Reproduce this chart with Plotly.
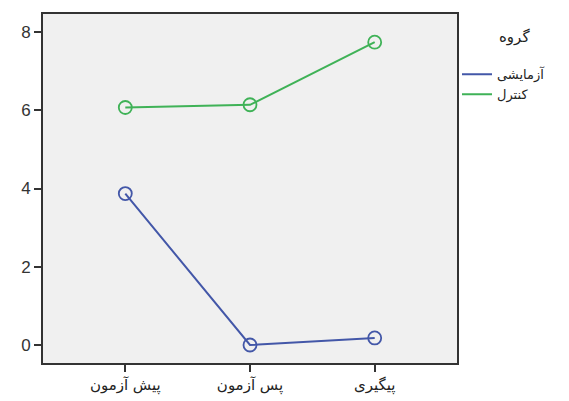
import plotly.graph_objects as go

categories = ["پیش آزمون", "پس آزمون", "پیگیری"]
group_names = ["آزمایشی", "کنترل"]
experimental = [3.87, 0.0, 0.18]
control = [6.07, 6.14, 7.74]
y_ticks = [0, 2, 4, 6, 8]
legend_title = "گروه"

colors = ["#4357a8", "#3fb257"]
series = [experimental, control]

fig = go.Figure()
for name, vals, col in zip(group_names, series, colors):
    fig.add_trace(go.Scatter(
        x=categories, y=vals, mode="lines+markers", name=name,
        line=dict(color=col, width=2),
        marker=dict(symbol="circle-open", size=13, color=col, line=dict(width=1.8)),
        showlegend=False,
    ))
    fig.add_trace(go.Scatter(
        x=[None], y=[None], mode="lines", name=name,
        line=dict(color=col, width=2), showlegend=True,
    ))

fig.update_layout(
    width=561, height=393,
    margin=dict(l=35, r=112, t=4, b=38),
    paper_bgcolor="white",
    plot_bgcolor="#f0f0f0",
    font=dict(family="DejaVu Sans, Liberation Sans, Arial", size=14, color="#222"),
    legend=dict(
        x=1.0, y=0.87, xanchor="left", yanchor="top",
        bgcolor="rgba(0,0,0,0)", font=dict(size=13, family="DejaVu Sans"),
        tracegroupgap=0, itemwidth=30,
    ),
    annotations=[dict(
        text=legend_title, xref="paper", yref="paper", x=1.14, y=0.935,
        xanchor="center", yanchor="middle", showarrow=False,
        font=dict(size=15, family="DejaVu Sans", color="#222"),
    )],
)
fig.update_xaxes(
    type="category", range=[-0.66, 2.66],
    showline=True, linecolor="#333", linewidth=2, mirror=True,
    ticks="outside", ticklen=7, tickwidth=2, tickcolor="#333",
    showgrid=False, zeroline=False,
    tickfont=dict(family="DejaVu Sans", size=15, color="#222"),
)
fig.update_yaxes(
    range=[-0.46, 8.46], tickvals=y_ticks,
    showline=True, linecolor="#333", linewidth=2, mirror=True,
    ticks="outside", ticklen=7, tickwidth=2, tickcolor="#333",
    showgrid=False, zeroline=False,
    tickfont=dict(family="Liberation Sans, Arial", size=17, color="#333"),
)

fig.write_html("out.html")
